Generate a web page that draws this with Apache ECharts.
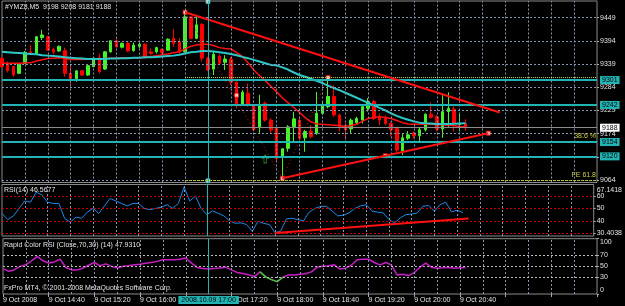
<!DOCTYPE html>
<html>
<head>
<meta charset="utf-8">
<script src="https://cdn.jsdelivr.net/npm/echarts@6/dist/echarts.min.js"></script>
<style>
  html, body { margin: 0; padding: 0; background: #000; }
  #chart { width: 625px; height: 306px; }
</style>
</head>
<body>
<div id="chart"></div>
<script>
// #YMZ8 M5 bars, 9 Oct 2008 from 14:00 — [open, close, low, high]
const candles = [
  [9352, 9333, 9329, 9356], [9341, 9323, 9319, 9345], [9333, 9313, 9309, 9335], [9317, 9339, 9315, 9341],
  [9341, 9367, 9339, 9370], [9368, 9366, 9360, 9384], [9364, 9404, 9362, 9405], [9402, 9408, 9396, 9420],
  [9404, 9372, 9370, 9406], [9374, 9368, 9362, 9378], [9370, 9381, 9368, 9383], [9371, 9317, 9309, 9378],
  [9317, 9304, 9290, 9338], [9304, 9323, 9297, 9325], [9323, 9313, 9311, 9325], [9313, 9335, 9311, 9337],
  [9333, 9353, 9331, 9355], [9354, 9321, 9317, 9364], [9327, 9368, 9325, 9370], [9368, 9394, 9366, 9396],
  [9394, 9380, 9378, 9400], [9379, 9388, 9376, 9390], [9388, 9370, 9368, 9392], [9371, 9384, 9368, 9390],
  [9381, 9386, 9376, 9390], [9386, 9354, 9352, 9388], [9368, 9364, 9360, 9376], [9368, 9378, 9364, 9380],
  [9374, 9366, 9364, 9376], [9372, 9398, 9370, 9400], [9400, 9388, 9380, 9422], [9392, 9368, 9364, 9400],
  [9368, 9451, 9366, 9462], [9451, 9400, 9398, 9453], [9400, 9432, 9398, 9455], [9433, 9353, 9345, 9436],
  [9353, 9325, 9322, 9356], [9327, 9362, 9313, 9368], [9358, 9341, 9338, 9362], [9343, 9351, 9325, 9360],
  [9351, 9296, 9289, 9356], [9296, 9242, 9234, 9298], [9242, 9272, 9240, 9277], [9270, 9242, 9238, 9293],
  [9242, 9183, 9179, 9245], [9190, 9242, 9175, 9266], [9246, 9206, 9202, 9250], [9206, 9183, 9175, 9210],
  [9187, 9115, 9108, 9190], [9119, 9138, 9068, 9139], [9139, 9190, 9131, 9194], [9190, 9209, 9155, 9226],
  [9206, 9163, 9159, 9214], [9164, 9179, 9131, 9183], [9180, 9167, 9163, 9194], [9175, 9222, 9171, 9273],
  [9222, 9240, 9218, 9250], [9238, 9262, 9234, 9307], [9262, 9218, 9214, 9289], [9218, 9190, 9179, 9222],
  [9193, 9183, 9159, 9198], [9185, 9206, 9175, 9210], [9200, 9210, 9196, 9214], [9206, 9238, 9198, 9242],
  [9234, 9250, 9226, 9258], [9250, 9210, 9206, 9254], [9213, 9206, 9194, 9222], [9210, 9198, 9194, 9218],
  [9198, 9183, 9167, 9202], [9187, 9135, 9131, 9190], [9133, 9164, 9123, 9175], [9163, 9171, 9159, 9180],
  [9175, 9169, 9162, 9180], [9169, 9183, 9156, 9188], [9183, 9220, 9179, 9222], [9220, 9212, 9210, 9248],
  [9214, 9185, 9179, 9218], [9185, 9226, 9164, 9266], [9226, 9234, 9190, 9272], [9232, 9198, 9179, 9238],
  [9196, 9198, 9179, 9222], [9198, 9188, 9181, 9208]
];

// moving averages
const maFast = [
  9341, 9341, 9341, 9341, 9342, 9342, 9346, 9349, 9352, 9353, 9354, 9352, 9350, 9350, 9350, 9351,
  9351, 9351, 9352, 9353, 9353, 9354, 9354, 9354, 9354, 9356, 9357, 9359, 9361, 9363, 9366, 9368,
  9375, 9381, 9384, 9386, 9386, 9383, 9378, 9376, 9375, 9366, 9357, 9342, 9325, 9312, 9300, 9286,
  9273, 9259, 9247, 9236, 9224, 9212, 9202, 9197, 9196, 9195, 9194, 9193, 9191, 9193, 9196, 9203,
  9210, 9213, 9214, 9212, 9210, 9205, 9200, 9197, 9196, 9196, 9196, 9196, 9195, 9195, 9194, 9193,
  9191, 9190
];
const maSlow = [
  9368, 9367, 9366, 9365, 9364, 9363, 9362, 9360, 9359, 9358, 9357, 9355, 9354, 9353, 9352, 9351,
  9351, 9351, 9351, 9352, 9352, 9353, 9353, 9354, 9354, 9355, 9355, 9356, 9357, 9358, 9359, 9361,
  9364, 9367, 9368, 9370, 9370, 9369, 9367, 9365, 9363, 9360, 9356, 9353, 9349, 9345, 9341, 9337,
  9336, 9331, 9326, 9319, 9313, 9309, 9304, 9299, 9294, 9288, 9282, 9277, 9271, 9265, 9259, 9253,
  9247, 9241, 9235, 9229, 9222, 9216, 9211, 9207, 9203, 9200, 9198.5, 9198, 9197, 9197, 9197, 9197.5,
  9198, 9198.5
];

const rsi = [
  46, 41, 44, 50, 56, 55, 63, 61, 55, 54, 54, 42, 39, 43, 42, 47,
  50, 46, 52, 58, 56, 54, 52, 54, 54, 50, 49, 50, 51, 53, 50, 54,
  67.14, 56, 60, 50, 45, 48, 46, 44, 40, 38, 38.4, 37, 31.6, 39.7, 38, 37,
  30.4, 32, 41.6, 42, 41, 40, 47, 50, 51.5, 51.8, 48, 44, 44.5, 46.4,
  50, 52, 53, 48, 47, 46.4, 41, 38.4, 42.4, 45, 45.5, 46.4, 51.8, 52.3,
  47.7, 53, 55, 47.2, 48.5, 46.57
];

const rapidRsi = [
  46, 41, 44, 50, 53, 60, 68, 60, 56, 58, 63, 48, 43.6, 43.6, 46.7, 52,
  57, 51, 54.5, 50, 47, 50, 51, 52.7, 54, 55.8, 57, 59, 61.8, 62, 61.8, 63,
  65, 55.8, 48, 46, 45, 46, 47, 48.5, 43.6, 39, 37, 35, 31.5, 40, 31, 26,
  22.4, 30.3, 34.5, 34.5, 35.5, 36.5, 40, 48.5, 50, 51, 52.7, 45, 46.7, 52,
  62, 63, 63, 57, 52.7, 57, 52.7, 34.5, 35.8, 33.3, 38.7, 48.5, 55.8, 48.5,
  46.7, 47.5, 48.5, 46.7, 47.5, 47.93
];
// oversold stretch drawn in green
const rapidRsiLow = [[45, 40], [46, 31], [47, 26], [48, 22.4], [49, 30.3]];

const priceTicks = [9064, 9119, 9174, 9229, 9284, 9339, 9394, 9449];
const rsiTicks = [30, 30.4038, 40, 50, 60];
const rsiMax = 67.1418;
const rsiLevels = [30, 40, 50, 60];
const rapidTicks = [0, 30, 50, 70, 100];
const rapidLevels = [30, 50, 70];
const timeLabels = ['9 Oct 2008', '9 Oct 14:40', '9 Oct 15:20', '9 Oct 16:00', '9 Oct 16:40',
  '9 Oct 17:20', '9 Oct 18:00', '9 Oct 18:40', '9 Oct 19:20', '9 Oct 20:00', '9 Oct 20:40'];

const hLevels = [9301, 9242, 9154, 9120];
const bidPrice = 9188;
const fibZero = 9307;
const fib38 = 9157;
const fib618 = 9064;
const upperTrend = [[32, 9462], [87, 9224]];
const lowerTrend = [[49, 9068], [85, 9175]];
const rsiTrend = [[48, 30.3], [82, 41.8]];
const zigzag = [[32, 9462], [49, 9068], [57, 9307]];
const handles = [[32, 9462], [40.5, 9265], [49, 9068], [57, 9307], [67, 9121.5], [85, 9175]];
const vlineHandles = [[36, 9487], [36, 9062]];
const arrowUp = [[46, 9114]];
const vlineIndex = 36;

// 5-minute slots from 14:00 across the visible width
const categories = [];
for (let i = 0; i < 105; i++) {
  const m = 14 * 60 + i * 5;
  categories.push(Math.floor(m / 60) + ':' + String(m % 60).padStart(2, '0'));
}
// vertical grid every 4 bars (20 minutes)
const gridSlots = [];
for (let i = 4; i < categories.length - 1; i += 4) gridSlots.push(i);

const txt = '#e4e4e4';
const gridColor = '#8595b5';
const cyan = '#22b4b4';
const font = 'Liberation Sans';

const chart = echarts.init(document.getElementById('chart'));

const xAxisBase = (gi, bottom) => ({
  type: 'category', gridIndex: gi, data: categories, boundaryGap: false,
  axisLine: { show: false },
  axisTick: { show: bottom, interval: 7, length: 3, lineStyle: { color: '#aaa' } },
  axisLabel: bottom ? {
    interval: 7, align: 'left', margin: 3, color: txt, fontSize: 7,
    formatter: (v, i) => (i <= 80 ? timeLabels[i / 8] : '')
  } : { show: false },
  splitLine: { show: false }
});

const dashed = () => ({ color: gridColor, width: 1, type: [2, 2] });
const noLabel = () => ({ show: false });
const gridMarks = (withRows) => [
  ...gridSlots.map(i => ({ xAxis: i, lineStyle: dashed(), label: noLabel() })),
  ...(withRows ? priceTicks.map(v => ({ yAxis: v, lineStyle: dashed(), label: noLabel() })) : [])
];

const vline = (withLabel) => ({
  xAxis: vlineIndex,
  lineStyle: { color: cyan, width: 1, type: 'solid' },
  label: withLabel ? {
    show: true, position: 'start', formatter: '2008.10.09 17:00', distance: 2,
    backgroundColor: cyan, color: '#000', fontSize: 7, padding: [1, 3, 0, 3]
  } : noLabel()
});

const boxLabel = (text, bg) => ({
  show: true, position: 'end', formatter: text, distance: 3,
  backgroundColor: bg, color: '#000', fontSize: 7, padding: [1, 2, 0, 2]
});

const mainMarks = [
  ...gridMarks(true),
  ...hLevels.map(v => ({ yAxis: v, lineStyle: { color: cyan, width: 2, type: 'solid' }, label: boxLabel(String(v), cyan) })),
  { yAxis: bidPrice, lineStyle: { color: '#8c8c8c', width: 1, type: 'solid' }, label: boxLabel(String(bidPrice), '#ffffff') },
  [{ coord: [32, fibZero] }, { coord: [104, fibZero], lineStyle: { color: '#c8d860', width: 1, type: 'dotted' }, label: noLabel() }],
  [{ coord: [32, fib38] }, { coord: [104, fib38], lineStyle: { color: 'rgba(0,0,0,0)', width: 1 },
    label: { show: true, position: 'insideEndTop', formatter: '38.6 %', color: '#d0d040', fontSize: 7, distance: 1 } }],
  [{ coord: [32, fib618] }, { coord: [104, fib618], lineStyle: { color: '#d8d800', width: 1, type: 'dotted' },
    label: { show: true, position: 'insideEndTop', formatter: 'FE 61.8', color: '#d0d040', fontSize: 7, distance: 1 } }],
  [{ coord: upperTrend[0] }, { coord: upperTrend[1], lineStyle: { color: '#ff1010', width: 2, type: 'solid' }, label: noLabel() }],
  [{ coord: lowerTrend[0] }, { coord: lowerTrend[1], lineStyle: { color: '#ff1010', width: 2, type: 'solid' }, label: noLabel() }],
  vline(false)
];

const plain = v => String(v);

const option = {
  backgroundColor: '#000',
  animation: false,
  textStyle: { fontFamily: font, fontSize: 7 },
  grid: [
    { left: 2, right: 28, top: 1, height: 181.5, show: true, borderColor: '#8a8a8a', borderWidth: 1 },
    { left: 2, right: 28, top: 184.5, height: 51.5, show: true, borderColor: '#8a8a8a', borderWidth: 1 },
    { left: 2, right: 28, top: 238.7, height: 55.3, show: true, borderColor: '#8a8a8a', borderWidth: 1 }
  ],
  xAxis: [xAxisBase(0, false), xAxisBase(1, false), xAxisBase(2, true)],
  yAxis: [
    {
      type: 'value', gridIndex: 0, position: 'right', min: 9058, max: 9488.6,
      axisLine: { show: false },
      axisTick: { show: true, length: 2, customValues: priceTicks, lineStyle: { color: '#aaa' } },
      axisLabel: { customValues: priceTicks, color: txt, fontSize: 7, margin: 3, formatter: plain, hideOverlap: false },
      splitLine: { show: false }
    },
    {
      type: 'value', gridIndex: 1, position: 'right', min: 27.8, max: 69.25,
      axisLine: { show: false },
      axisTick: { show: true, length: 2, customValues: rsiTicks, lineStyle: { color: '#aaa' } },
      axisLabel: { customValues: rsiTicks, color: txt, fontSize: 7, margin: 3, formatter: plain, hideOverlap: false },
      splitLine: { show: false }
    },
    {
      type: 'value', gridIndex: 2, position: 'right', min: 0, max: 100,
      axisLine: { show: false },
      axisTick: { show: true, length: 2, customValues: rapidTicks, lineStyle: { color: '#aaa' } },
      axisLabel: { customValues: rapidTicks, color: txt, fontSize: 7, margin: 3, formatter: plain,
        hideOverlap: false, verticalAlignMaxLabel: 'top', verticalAlignMinLabel: 'bottom' },
      splitLine: { show: false }
    }
  ],
  graphic: [
    { type: 'text', left: 5, top: 4, style: { text: '#YMZ8,M5  9198 9208 9181 9188', fill: txt, font: '7px ' + font } },
    { type: 'text', left: 4, top: 187, style: { text: 'RSI(14) 46.5677', fill: txt, font: '7px ' + font } },
    { type: 'text', left: 4, top: 242, style: { text: 'Rapid Color RSI (Close,70,30) (14) 47.9310', fill: txt, font: '7px ' + font } },
    { type: 'text', left: 4, top: 285, style: { text: 'FxPro MT4, © 2001-2008 MetaQuotes Software Corp.', fill: txt, font: '7px ' + font } }
  ],
  series: [
    {
      type: 'candlestick', xAxisIndex: 0, yAxisIndex: 0, data: candles, barWidth: 3,
      itemStyle: { color: '#44f428', color0: '#ff0000', borderColor: '#44f428', borderColor0: '#ff0000', borderWidth: 1 },
      markLine: { silent: true, symbol: ['none', 'none'], animation: false, data: mainMarks }
    },
    {
      type: 'line', xAxisIndex: 0, yAxisIndex: 0, data: maFast, showSymbol: false, z: 3,
      lineStyle: { color: '#ff1010', width: 1.5 }
    },
    {
      type: 'line', xAxisIndex: 0, yAxisIndex: 0, data: maSlow, showSymbol: false, z: 3,
      lineStyle: { color: '#2cc8c8', width: 2 }
    },
    {
      type: 'line', xAxisIndex: 0, yAxisIndex: 0, data: zigzag, showSymbol: false, z: 3,
      lineStyle: { color: '#e01010', width: 1, type: [1, 3] }
    },
    {
      type: 'scatter', xAxisIndex: 0, yAxisIndex: 0, data: handles, symbol: 'rect', symbolSize: 4, z: 4,
      itemStyle: { color: '#ffffff', borderColor: '#ff0000', borderWidth: 1 }
    },
    {
      type: 'scatter', xAxisIndex: 0, yAxisIndex: 0, data: vlineHandles, symbol: 'rect', symbolSize: 4, z: 4,
      itemStyle: { color: '#ffffff', borderColor: cyan, borderWidth: 1 }
    },
    {
      type: 'scatter', xAxisIndex: 0, yAxisIndex: 0, data: arrowUp, z: 4,
      symbol: 'path://M5,0 L10,5 L7,5 L7,12 L3,12 L3,5 L0,5 Z', symbolSize: [6, 8],
      itemStyle: { color: 'rgba(0,0,0,0)', borderColor: '#2a9a3a', borderWidth: 1 }
    },
    {
      type: 'line', xAxisIndex: 1, yAxisIndex: 1, data: rsi, showSymbol: false,
      lineStyle: { color: '#1e88e8', width: 1 },
      markLine: {
        silent: true, symbol: ['none', 'none'], animation: false,
        data: [
          ...gridMarks(false),
          ...rsiLevels.map(v => ({ yAxis: v, lineStyle: { color: '#c00000', width: 1, type: [2, 2] }, label: noLabel() })),
          { yAxis: rsiMax, lineStyle: { color: 'rgba(0,0,0,0)', width: 1 },
            label: { show: true, position: 'end', formatter: String(rsiMax), color: txt, fontSize: 7, distance: 3, offset: [0, 3] } },
          [{ coord: rsiTrend[0] }, { coord: rsiTrend[1], lineStyle: { color: '#ff1010', width: 2, type: 'solid' }, label: noLabel() }],
          vline(false)
        ]
      }
    },
    {
      type: 'line', xAxisIndex: 2, yAxisIndex: 2, data: rapidRsi, showSymbol: false,
      lineStyle: { color: '#c81ec8', width: 1.5 },
      markLine: {
        silent: true, symbol: ['none', 'none'], animation: false,
        data: [
          ...gridMarks(false),
          ...rapidLevels.map(v => ({ yAxis: v, lineStyle: { color: '#bbbbbb', width: 1, type: [2, 2] }, label: noLabel() })),
          vline(true)
        ]
      }
    },
    {
      type: 'line', xAxisIndex: 2, yAxisIndex: 2, data: rapidRsiLow, showSymbol: false, z: 3,
      lineStyle: { color: '#33cc22', width: 1.5 }
    }
  ]
};

chart.setOption(option);
</script>
</body>
</html>
